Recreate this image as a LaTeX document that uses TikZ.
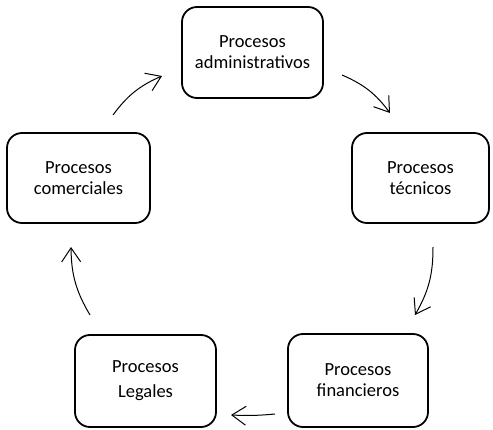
\documentclass[tikz,border=0pt]{standalone}
\usepackage{fontspec}
\setmainfont{Carlito}
\usetikzlibrary{arrows.meta}
\begin{document}
\begin{tikzpicture}[x=1pt,y=-1pt,
  procbox/.style={draw=black, line width=1.8pt, rounded corners=15pt, align=center,
    font=\fontsize{18.5}{21}\selectfont, inner sep=0pt},
  flow/.style={line width=1pt, -{Straight Barb[length=14pt,width=19pt,line width=1pt]}}]
\useasboundingbox (0,0) rectangle (493,430);
\node[procbox, minimum width=141pt, minimum height=91pt] (adm) at (252.5,52.5) {Procesos\\administrativos};
\node[procbox, minimum width=137pt, minimum height=90pt] (tec) at (420.5,178) {Procesos\\técnicos};
\node[procbox, minimum width=140pt, minimum height=93pt] (fin) at (358,380.5) {Procesos\\financieros};
\node[procbox, minimum width=141pt, minimum height=92pt, font=\fontsize{18.5}{25}\selectfont] (leg) at (145.5,381) {Procesos\\Legales};
\node[procbox, minimum width=143pt, minimum height=90pt] (com) at (78.5,178) {Procesos\\comerciales};
\coordinate (a1s) at (113,115); \coordinate (a1e) at (162,76);
\coordinate (a2s) at (342,75); \coordinate (a2e) at (390,113);
\coordinate (a3s) at (433,247); \coordinate (a3e) at (415,315);
\coordinate (a4s) at (275,414); \coordinate (a4e) at (231,415);
\coordinate (a5s) at (90,315); \coordinate (a5e) at (71,247);
\draw[flow] (a1s) to[bend left=15] (a1e);
\draw[flow] (a2s) to[bend left=15] (a2e);
\draw[flow] (a3s) to[bend left=15] (a3e);
\draw[flow] (a4s) to[bend left=4] (a4e);
\draw[flow] (a5s) to[bend left=15] (a5e);
\end{tikzpicture}
\end{document}
